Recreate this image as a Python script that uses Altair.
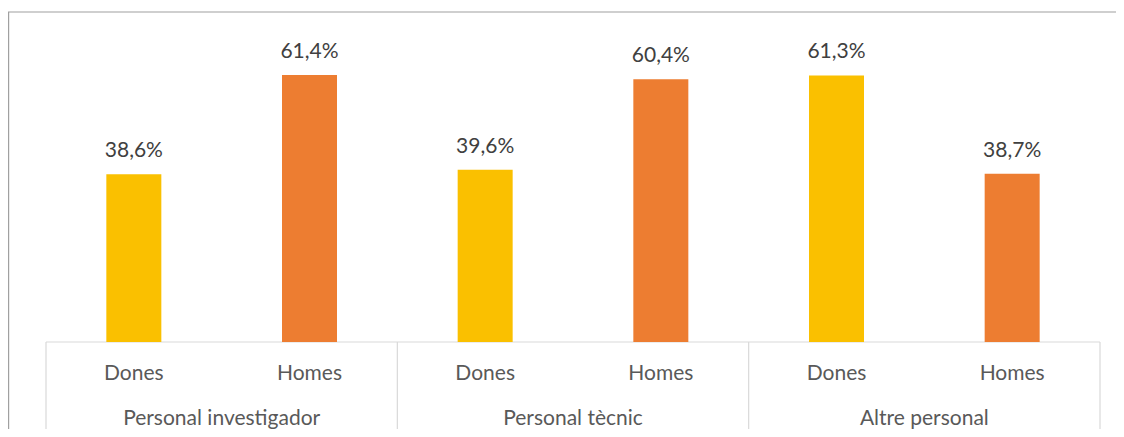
import altair as alt
import pandas as pd

# Data
groups = ["Personal investigador", "Personal tècnic", "Altre personal"]
sexes = ["Dones", "Homes"]
dones = [38.6, 39.6, 61.3]
homes = [61.4, 60.4, 38.7]
colors = ["#FAC000", "#ED7D31"]

rows = []
for gi, g in enumerate(groups):
    for si, (s, v) in enumerate(zip(sexes, [dones[gi], homes[gi]])):
        rows.append(dict(group=g, sex=s, value=v, slot=gi * 2 + si + 0.5,
                         label=f"{v:.1f}".replace(".", ",") + "%"))
df = pd.DataFrame(rows)
gdf = pd.DataFrame(dict(group=groups, center=[gi * 2 + 1 for gi in range(len(groups))]))
div = pd.DataFrame(dict(pos=[gi * 2 for gi in range(len(groups) + 1)]))
one = pd.DataFrame(dict(a=[0]))

W, H = 1108, 421
FONT = "Lato"
FS = 21
BASE = 334
PX_PER = 267 / 61.4

xs = alt.Scale(domain=[0, 2 * len(groups)], range=[38, 1092], padding=0, nice=False, zero=False)
ys = alt.Scale(domain=[0, 70], range=[BASE, BASE - 70 * PX_PER], nice=False)

X = alt.X("slot:Q", scale=xs, axis=None)
Y = alt.Y("value:Q", scale=ys, axis=None)

bars = alt.Chart(df).mark_bar(orient="vertical", size=55).encode(
    x=X, y=Y,
    color=alt.Color("sex:N", scale=alt.Scale(domain=sexes, range=colors), legend=None),
)

vals = alt.Chart(df).mark_text(dy=-17, baseline="alphabetic", font=FONT, fontSize=FS,
                               color="#404040").encode(x=X, y=Y, text="label:N")

cats = alt.Chart(df).mark_text(baseline="alphabetic", font=FONT, fontSize=FS,
                               color="#595959").encode(x=X, y=alt.value(372), text="sex:N")

grp = alt.Chart(gdf).mark_text(baseline="alphabetic", font=FONT, fontSize=FS,
                               color="#595959").encode(
    x=alt.X("center:Q", scale=xs, axis=None), y=alt.value(417), text="group:N")

base_line = alt.Chart(one).mark_rule(color="#d9d9d9", strokeWidth=1.2).encode(
    x=alt.X(datum=0, type="quantitative", scale=xs, axis=None),
    x2=alt.datum(2 * len(groups)),
    y=alt.Y(datum=0, type="quantitative", scale=ys, axis=None),
)

dividers = alt.Chart(div).mark_rule(color="#d9d9d9", strokeWidth=1.2).encode(
    x=alt.X("pos:Q", scale=xs, axis=None), y=alt.value(BASE), y2=alt.value(H))

frame_top = alt.Chart(one).mark_rule(color="#a0a0a0", strokeWidth=1.2).encode(
    x=alt.value(0), x2=alt.value(W), y=alt.value(4))
frame_left = alt.Chart(one).mark_rule(color="#a0a0a0", strokeWidth=1.2).encode(
    x=alt.value(0.6), y=alt.value(4), y2=alt.value(H))

chart = alt.layer(frame_top, frame_left, base_line, dividers, bars, vals, cats, grp).properties(
    width=W, height=H, padding=0,
    autosize=alt.AutoSizeParams(type="none"),
    background="white",
).configure_view(stroke=None)

chart.save("out.html", embed_options={"renderer": "svg", "actions": False})
